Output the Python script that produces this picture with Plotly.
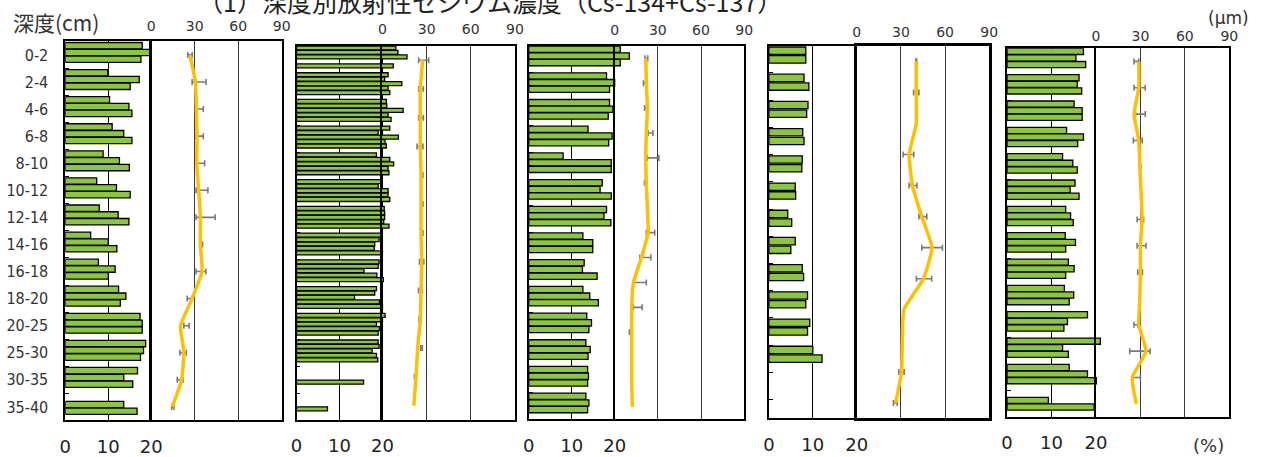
import plotly.graph_objects as go

W, H = 1266, 457

# ---------------- data ----------------
depths = ["0-2", "2-4", "4-6", "6-8", "8-10", "10-12", "12-14", "14-16",
          "16-18", "18-20", "20-25", "25-30", "30-35", "35-40"]

# panel 1 bars (%)
p1_bar_a = [17.9, 9.9, 10.3, 10.9, 8.8, 7.3, 7.9, 5.9, 7.7, 12.4, 17.4, 18.7, 16.8, None]
p1_bar_b = [19.7, 17.2, 14.8, 13.6, 12.6, 11.9, 12.3, 10.0, 11.6, 14.1, 17.9, 18.2, 13.6, 13.6]
p1_bar_c = [17.6, 15.1, 15.5, 15.5, 14.9, 15.1, 14.8, 12.0, 10.0, 12.8, 17.9, 17.5, 15.7, 16.7]
# panel 2 bars (%)
p2_bar_a = [23.1, 21.3, 20.9, 21.7, 18.6, 19.8, 20.4, 19.9, 19.2, 18.6, 20.6, 19.0, None, None]
p2_bar_b = [23.6, 20.5, 21.0, 19.0, 21.7, 19.0, 20.5, 19.2, 19.0, 18.2, 20.0, 19.2, None, None]
p2_bar_c = [25.7, 24.5, 24.8, 23.7, 22.6, 21.3, 20.5, 18.2, 15.7, 13.5, 18.6, 17.6, None, None]
p2_bar_d = [None, 21.3, 21.3, 20.6, 21.3, 21.3, 20.3, 18.1, 18.7, 19.3, 19.3, 18.6, 15.6, 7.2]
p2_bar_e = [22.5, 21.7, 22.0, 20.9, 21.5, 21.7, 21.5, 20.0, 20.2, 20.0, 19.0, 18.9, None, None]
# panel 3 bars (%)
p3_bar_a = [21.3, 18.1, 18.8, 13.8, 8.0, 17.1, 18.1, 12.6, 12.9, 12.6, 13.5, 13.3, 13.7, 13.3]
p3_bar_b = [23.4, 20.0, 19.6, 19.4, 19.2, 16.6, 17.5, 14.9, 12.5, 14.2, 14.6, 14.3, 13.9, 14.0]
p3_bar_c = [21.3, 18.8, 18.5, 18.6, 19.2, 19.2, 19.1, 14.9, 15.9, 16.2, 14.0, 13.8, 13.7, 13.7]
# panel 4 bars (%)
p4_bar_a = [8.4, 8.0, 8.9, 7.7, 7.6, 6.0, 4.3, 6.0, 7.6, 8.8, 9.3, 10.0, None, None]
p4_bar_b = [8.4, 9.1, 8.6, 8.0, 7.5, 6.1, 5.2, 5.0, 7.9, 8.4, 8.8, 12.1, None, None]
# panel 5 bars (%)
p5_bar_a = [17.2, 16.2, 15.1, 13.4, 12.5, 15.3, 13.2, 13.1, 13.8, 12.9, 18.1, 21.0, 14.0, None]
p5_bar_b = [15.5, 15.8, 16.9, 17.2, 14.8, 14.2, 14.3, 15.4, 15.1, 15.0, 13.6, 12.5, 18.1, 9.3]
p5_bar_c = [17.7, 16.8, 16.9, 15.9, 15.8, 16.2, 14.9, 13.2, 13.2, 14.0, 12.8, 13.8, 20.1, 19.6]

# particle size lines (um) with error bars
p1_line = [26.6, 30.5, 31.1, 31.6, 31.4, 32.7, 33.9, 33.9, 35.0, 28.2, 20.2, 22.5, 20.9, 14.5]
p1_err_mid = [26.7, 33.0, 33.4, 33.4, 34.2, 35.0, 37.5, 34.6, 34.3, 26.5, 24.3, 22.0, 19.9, 14.9]
p1_err_half = [1.5, 4.8, 2.5, 2.5, 2.6, 4.1, 6.6, 0.8, 3.4, 1.7, 1.8, 2.2, 2.0, 0.8]

p2_line = [27.3, 25.7, 25.7, 25.7, 26.2, 26.2, 26.2, 26.6, 26.2, 25.7, 23.9, 22.8, 21.3]
p2_err_mid = [28.0, 26.2, 26.2, 25.5, 27.0, 27.0, 27.0, 26.6, 25.8, 25.4, 26.5, 22.2, None]
p2_err_half = [3.4, 1.6, 1.6, 2.0, 0.5, 0.5, 0.5, 1.5, 1.3, 0.6, 0.6, 0.5, None]

p3_line = [21.6, 22.0, 22.7, 22.0, 21.6, 22.0, 22.7, 23.2, 18.6, 13.0, 11.8, 11.8, 11.8, 11.8, 12.3]
p3_err_mid = [22.0, 21.0, 21.8, 24.9, 26.7, 21.5, None, 24.9, 21.3, 17.5, 16.0, 10.7, None, None, None]
p3_err_half = [1.0, 1.0, 1.0, 1.7, 4.0, 0.8, None, 2.9, 3.8, 4.5, 3.1, 0.5, None, None, None]

p4_line = [40.4, 40.4, 40.4, 35.6, 37.8, 44.2, 51.1, 45.3, 32.0, 30.9, 30.4, 26.4]
p4_err_mid = [40.4, 40.4, 40.4, 35.1, 38.2, 44.9, 51.2, 45.7, None, None, 30.4, 26.2]
p4_err_half = [0.3, 1.8, 0.3, 3.6, 2.7, 2.7, 7.0, 5.2, None, None, 1.8, 1.3]

p5_line = [28.9, 28.9, 25.7, 28.9, 29.6, 30.5, 31.1, 30.0, 30.0, 29.6, 28.9, 33.8, 24.5, 27.2]
p5_err_mid = [27.3, 29.5, 30.0, 28.2, 29.9, None, 30.0, 30.8, 29.8, 29.3, 27.0, 29.7, 27.3, None]
p5_err_half = [1.6, 3.8, 3.3, 3.0, 0.4, None, 2.2, 3.0, 1.6, 0.4, 1.3, 6.9, 2.7, None]

bar_ticks = [0, 10, 20]
size_ticks = [0, 30, 60, 90]

title_text = "（1）深度別放射性セシウム濃度（Cs-134+Cs-137）"

# ---------------- layout geometry (pixels) ----------------
panels = [
    dict(bars=[p1_bar_a, p1_bar_b, p1_bar_c], slots=[0.16, 0.41, 0.66], bw=0.235,
         line=p1_line, em=p1_err_mid, eh=p1_err_half, topstand=3,
         bx0=60, bx1=147, lx1=279, top=42, bot=427, yr=[13.5, -0.5], lw=1.6),
    dict(bars=[p2_bar_a, p2_bar_b, p2_bar_c, p2_bar_d, p2_bar_e],
         slots=[1/12, 3/12, 5/12, 7/12, 9/12], bw=0.15,
         line=p2_line, em=p2_err_mid, eh=p2_err_half, topstand=4,
         bx0=294, bx1=381, lx1=515, top=46.5, bot=426.5, yr=[13.5, -0.5], lw=1.6),
    dict(bars=[p3_bar_a, p3_bar_b, p3_bar_c], slots=[0.13, 0.38, 0.63], bw=0.235,
         line=p3_line, em=p3_err_mid, eh=p3_err_half, topstand=3,
         bx0=529, bx1=616, lx1=747, top=46.5, bot=426, yr=[13.5, -0.5], lw=1.6),
    dict(bars=[p4_bar_a, p4_bar_b], slots=[0.18, 0.5], bw=0.27,
         line=p4_line, em=p4_err_mid, eh=p4_err_half, topstand=0,
         bx0=772, bx1=861, lx1=995, top=46.5, bot=425, yr=[13.2, -0.5], lw=2.6),
    dict(bars=[p5_bar_a, p5_bar_b, p5_bar_c], slots=[0.12, 0.37, 0.62], bw=0.235,
         line=p5_line, em=p5_err_mid, eh=p5_err_half, topstand=0,
         bx0=1013, bx1=1103, lx1=1238, top=49, bot=423.5, yr=[13.5, -0.5], lw=1.6),
]

GREEN = "#8cc63f"
GOLD = "#ffc000"
label_font = "Liberation Sans Narrow, DejaVu Sans Condensed, Arial Narrow, Liberation Sans, sans-serif"
num_font = "DejaVu Sans, Verdana, sans-serif"
jp_font = "Noto Sans CJK JP, Noto Sans, sans-serif"


def axkey(kind, i):
    return f"{kind}axis" if i == 1 else f"{kind}axis{i}"


def ref(kind, i):
    return kind if i == 1 else f"{kind}{i}"


fig = go.Figure()
layout_axes = {}

for p, P in enumerate(panels):
    bi, li = 2 * p + 1, 2 * p + 2
    ydom = [1 - P["bot"] / H, 1 - P["top"] / H]
    span = 20 * (P["lx1"] - P["bx0"]) / (P["bx1"] - P["bx0"])

    # bars
    for vals, c in zip(P["bars"], P["slots"]):
        fig.add_trace(go.Bar(
            x=vals, y=depths, orientation="h",
            width=P["bw"], offset=c - 0.5 - P["bw"] / 2,
            marker=dict(color=GREEN, line=dict(color="#000000", width=1.3)),
            xaxis=ref("x", bi), yaxis=ref("y", bi), showlegend=False,
            hoverinfo="x+y"))

    n = len(P["line"])
    idx = list(range(n))
    fig.add_trace(go.Scatter(
        x=P["em"], y=idx, mode="markers",
        marker=dict(size=2, color="rgba(0,0,0,0)"),
        error_x=dict(type="data", array=P["eh"], color="#7a7a7a", thickness=1.6, width=3),
        xaxis=ref("x", li), yaxis=ref("y", li), showlegend=False))
    fig.add_trace(go.Scatter(
        x=P["line"], y=idx, mode="lines",
        line=dict(color=GOLD, width=3.5, shape="spline", smoothing=0.45),
        xaxis=ref("x", li), yaxis=ref("y", li), showlegend=False))

    layout_axes[axkey("x", bi)] = dict(
        domain=[P["bx0"] / W, P["lx1"] / W], range=[0, span], anchor=ref("y", bi),
        tickmode="array", tickvals=bar_ticks, ticktext=[str(t) for t in bar_ticks],
        showgrid=True, gridcolor="#000000", gridwidth=1.1, zeroline=False,
        showline=True, mirror=True, linecolor="#000000", linewidth=1.6,
        ticks="", side="bottom", ticklabelstandoff=9,
        tickfont=dict(family=num_font, size=18, color="#222222"))
    layout_axes[axkey("y", bi)] = dict(
        domain=ydom, type="category", categoryorder="array", categoryarray=depths,
        range=P["yr"], anchor=ref("x", bi),
        showline=True, mirror=True, linecolor="#000000", linewidth=1.6,
        ticks="inside", tickson="boundaries", ticklen=4, tickcolor="#000000", tickwidth=1.3,
        showgrid=False, zeroline=False, showticklabels=(p == 0),
        ticklabelstandoff=12,
        tickfont=dict(family=label_font, size=16, color="#333333"))
    layout_axes[axkey("x", li)] = dict(
        domain=[P["bx1"] / W, P["lx1"] / W], range=[0, 90], anchor=ref("y", li),
        side="top", tickmode="array", tickvals=size_ticks,
        ticktext=[str(t) for t in size_ticks],
        showgrid=True, gridcolor="#3a3a3a", gridwidth=1.1, zeroline=False,
        showline=True, mirror=True, linecolor="#000000", linewidth=P["lw"],
        ticks="", ticklabelstandoff=P["topstand"],
        tickfont=dict(family=num_font, size=14, color="#333333"))
    layout_axes[axkey("y", li)] = dict(
        domain=ydom, range=[n - 0.5, -0.5], anchor=ref("x", li),
        showline=True, mirror=True, linecolor="#000000", linewidth=P["lw"],
        showgrid=False, zeroline=False, showticklabels=False, ticks="")

annotations = [
    dict(text=title_text, x=192 / W, y=1 - 1 / H, xanchor="left", yanchor="middle",
         font=dict(family=jp_font, size=25, color="#222222")),
    dict(text="深度(cm)", x=5 / W, y=1 - 22 / H, xanchor="left", yanchor="middle",
         font=dict(family=jp_font, size=21, color="#333333")),
    dict(text="(μm)", x=1260 / W, y=1 - 18 / H, xanchor="right", yanchor="middle",
         font=dict(family=num_font, size=17, color="#333333")),
    dict(text="(%)", x=1235 / W, y=1 - 452 / H, xanchor="right", yanchor="middle",
         font=dict(family=num_font, size=18, color="#333333")),
]
for a in annotations:
    a.update(xref="paper", yref="paper", showarrow=False)

fig.update_layout(
    width=W, height=H, margin=dict(l=0, r=0, t=0, b=0),
    paper_bgcolor="#ffffff", plot_bgcolor="rgba(0,0,0,0)",
    barmode="overlay", showlegend=False, annotations=annotations,
    **layout_axes)

fig.write_html("out.html", config={"displayModeBar": False},
               post_script="document.body.style.margin='0';document.body.style.overflow='hidden';")
